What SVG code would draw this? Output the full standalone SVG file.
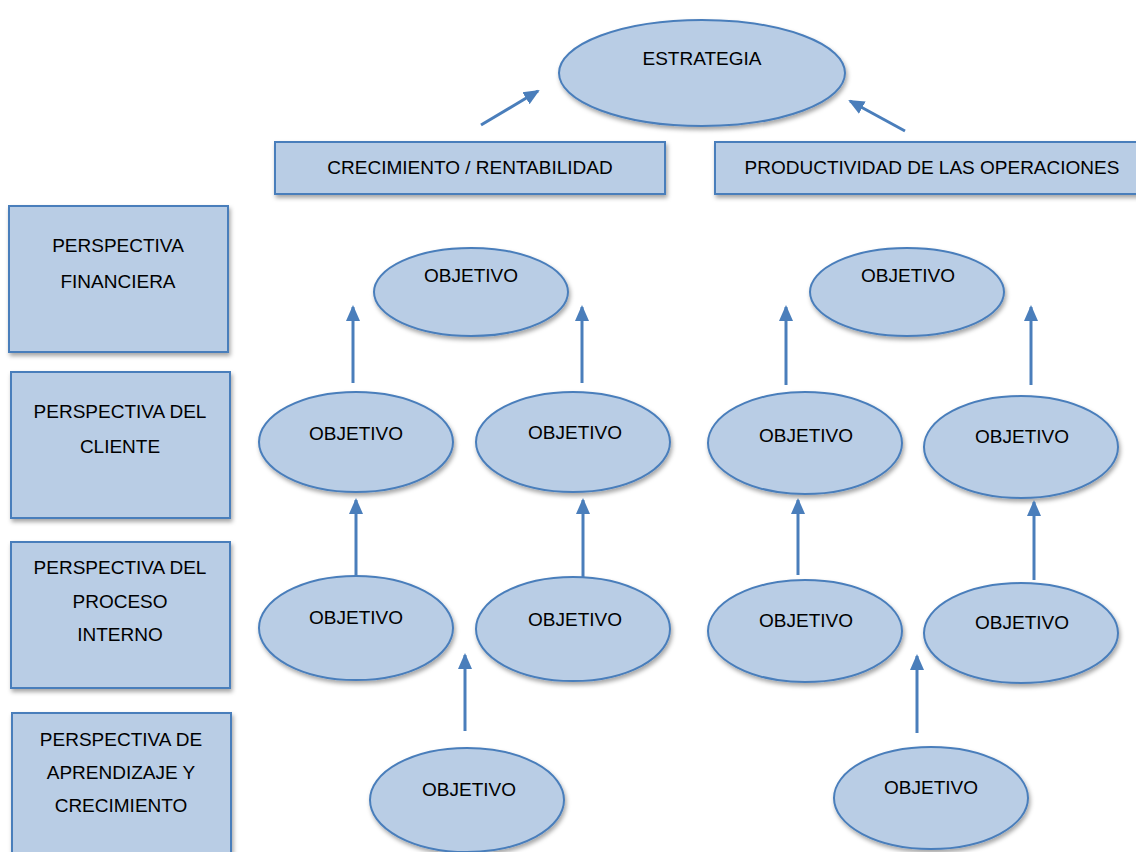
<svg xmlns="http://www.w3.org/2000/svg" width="1136" height="852" viewBox="0 0 1136 852">
<defs>
<filter id="sh" x="-10%" y="-10%" width="130%" height="140%">
<feDropShadow dx="1.5" dy="3" stdDeviation="2" flood-color="#000" flood-opacity="0.35"/>
</filter>
<marker id="ah" markerUnits="userSpaceOnUse" markerWidth="16" markerHeight="16" viewBox="0 0 16 16" refX="14" refY="8" orient="auto">
<path d="M0,1 L16,8 L0,15 Z" fill="#4A7EBB"/>
</marker>
<style>
.n{fill:#B9CDE5;stroke:#4A7EBB;stroke-width:2;filter:url(#sh)}
.t{font-family:"Liberation Sans",Arial,sans-serif;font-size:19px;fill:#000;text-anchor:middle}
.c{stroke:#4A7EBB;stroke-width:3;fill:none;marker-end:url(#ah)}
</style>
</defs>
<rect width="1136" height="852" fill="#fff"/>
<g id="estrategia"><ellipse class="n" cx="702" cy="73" rx="143" ry="53"/><text class="t" x="702" y="65">ESTRATEGIA</text></g>
<g id="crecimiento"><rect class="n" x="275" y="142" width="390" height="52"/><text class="t" x="470" y="174">CRECIMIENTO / RENTABILIDAD</text></g>
<g id="productividad"><rect class="n" x="715" y="142" width="440" height="52"/><text class="t" x="932" y="174">PRODUCTIVIDAD DE LAS OPERACIONES</text></g>
<g id="p-financiera"><rect class="n" x="9" y="206" width="219" height="146"/><text class="t" x="118" y="252">PERSPECTIVA</text><text class="t" x="118" y="288">FINANCIERA</text></g>
<g id="p-cliente"><rect class="n" x="11" y="372" width="219" height="146"/><text class="t" x="120" y="418">PERSPECTIVA DEL</text><text class="t" x="120" y="453">CLIENTE</text></g>
<g id="p-proceso"><rect class="n" x="11" y="542" width="219" height="146"/><text class="t" x="120" y="574">PERSPECTIVA DEL</text><text class="t" x="120" y="608">PROCESO</text><text class="t" x="120" y="641">INTERNO</text></g>
<g id="p-aprendizaje"><rect class="n" x="12" y="713" width="219" height="150"/><text class="t" x="121" y="746">PERSPECTIVA DE</text><text class="t" x="121" y="779">APRENDIZAJE Y</text><text class="t" x="121" y="812">CRECIMIENTO</text></g>
<g id="o-l1"><ellipse class="n" cx="471" cy="292" rx="97" ry="44"/><text class="t" x="471" y="282">OBJETIVO</text></g>
<g id="o-l2a"><ellipse class="n" cx="356" cy="442" rx="97" ry="50"/><text class="t" x="356" y="440">OBJETIVO</text></g>
<g id="o-l2b"><ellipse class="n" cx="573" cy="442" rx="97" ry="50"/><text class="t" x="575" y="439">OBJETIVO</text></g>
<g id="o-l3a"><ellipse class="n" cx="356" cy="628" rx="97" ry="52"/><text class="t" x="356" y="624">OBJETIVO</text></g>
<g id="o-l3b"><ellipse class="n" cx="573" cy="629" rx="97" ry="52"/><text class="t" x="575" y="626">OBJETIVO</text></g>
<g id="o-l4"><ellipse class="n" cx="467" cy="800" rx="97" ry="52"/><text class="t" x="469" y="796">OBJETIVO</text></g>
<g id="o-r1"><ellipse class="n" cx="907" cy="292" rx="97" ry="44"/><text class="t" x="908" y="282">OBJETIVO</text></g>
<g id="o-r2a"><ellipse class="n" cx="805" cy="443" rx="97" ry="51"/><text class="t" x="806" y="442">OBJETIVO</text></g>
<g id="o-r2b"><ellipse class="n" cx="1021" cy="447" rx="97" ry="51"/><text class="t" x="1022" y="443">OBJETIVO</text></g>
<g id="o-r3a"><ellipse class="n" cx="805" cy="631" rx="97" ry="51"/><text class="t" x="806" y="627">OBJETIVO</text></g>
<g id="o-r3b"><ellipse class="n" cx="1021" cy="633" rx="97" ry="50"/><text class="t" x="1022" y="629">OBJETIVO</text></g>
<g id="o-r4"><ellipse class="n" cx="931" cy="798" rx="97" ry="51"/><text class="t" x="931" y="794">OBJETIVO</text></g>
<g id="connectors">
<line class="c" x1="481" y1="125" x2="538" y2="91"/>
<line class="c" x1="905" y1="131" x2="850" y2="101"/>
<line class="c" x1="353" y1="383" x2="353" y2="307"/>
<line class="c" x1="582" y1="383" x2="582" y2="307"/>
<line class="c" x1="356" y1="577" x2="356" y2="500"/>
<line class="c" x1="583" y1="577" x2="583" y2="500"/>
<line class="c" x1="465" y1="731" x2="465" y2="655"/>
<line class="c" x1="786" y1="385" x2="786" y2="307"/>
<line class="c" x1="1031" y1="385" x2="1031" y2="307"/>
<line class="c" x1="798" y1="575" x2="798" y2="500"/>
<line class="c" x1="1034" y1="580" x2="1034" y2="502"/>
<line class="c" x1="917" y1="733" x2="917" y2="656"/>
</g>
</svg>
